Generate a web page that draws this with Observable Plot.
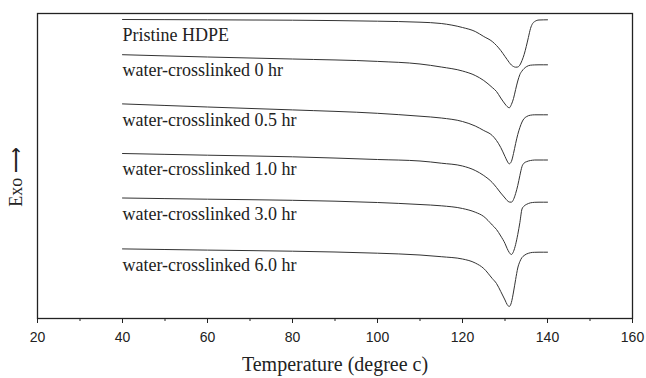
<!DOCTYPE html>
<html><head><meta charset="utf-8">
<script src="https://cdn.jsdelivr.net/npm/d3@7"></script>
<script src="https://cdn.jsdelivr.net/npm/@observablehq/plot@0.6"></script>
<style>
body{margin:0;background:#fff;}
#chart svg{display:block;}
</style>
</head><body><div id="chart"></div>
<script>
// Temperature grid (°C)
const temperature = [40, 60, 80, 100, 110, 115, 120, 123, 125, 127, 128, 129, 130, 130.5, 131, 131.5, 132, 132.5, 133, 133.5, 134, 134.5, 135, 135.5, 136, 136.5, 137, 138, 140];

const seriesNames = ["Pristine HDPE", "water-crosslinked 0 hr", "water-crosslinked 0.5 hr", "water-crosslinked 1.0 hr", "water-crosslinked 3.0 hr", "water-crosslinked 6.0 hr"];

// Heat flow (arbitrary units, stacked)
const pristine = [29.9, 29.87, 29.83, 29.73, 29.63, 29.5, 29.1, 28.7, 28.2, 27.7, 27.3, 26.8, 26.2, 25.9, 25.6, 25.35, 25.2, 25.13, 25.15, 25.35, 25.8, 26.4, 27.2, 28.1, 29.0, 29.5, 29.7, 29.85, 29.87];
const hr0 = [26.38, 26.15, 25.95, 25.71, 25.45, 25.15, 24.75, 24.3, 23.8, 23.1, 22.7, 22.05, 21.45, 21.2, 21.07, 21.4, 22.0, 22.9, 23.75, 24.4, 24.75, 25.0, 25.17, 25.28, 25.33, 25.35, 25.36, 25.37, 25.37];
const hr05 = [21.46, 21.15, 20.86, 20.52, 20.23, 20.05, 19.7, 19.25, 18.8, 18.3, 17.8, 17.1, 16.2, 15.75, 15.47, 15.7, 16.5, 17.5, 18.4, 19.1, 19.65, 20.0, 20.17, 20.28, 20.33, 20.36, 20.37, 20.37, 20.37];
const hr10 = [16.5, 16.33, 16.17, 15.9, 15.75, 15.53, 15.25, 14.8, 14.3, 13.6, 13.1, 12.55, 12.05, 11.8, 11.65, 11.63, 11.9, 12.5, 13.3, 14.3, 15.2, 15.55, 15.67, 15.75, 15.8, 15.83, 15.85, 15.85, 15.85];
const hr30 = [12.05, 11.93, 11.82, 11.6, 11.4, 11.27, 11.0, 10.63, 10.2, 9.35, 8.9, 8.25, 7.5, 7.0, 6.6, 6.4, 6.7, 7.4, 8.4, 9.6, 10.95, 11.25, 11.4, 11.5, 11.57, 11.6, 11.62, 11.63, 11.63];
const hr60 = [6.96, 6.84, 6.73, 6.53, 6.35, 6.18, 5.95, 5.55, 5.0, 4.0, 3.5, 2.7, 1.85, 1.4, 1.2, 1.6, 2.65, 3.9, 5.05, 5.7, 6.1, 6.3, 6.44, 6.52, 6.58, 6.61, 6.62, 6.63, 6.63];

const xMajorTicks = [20, 40, 60, 80, 100, 120, 140, 160];
const xMinorTicks = [30, 50, 70, 90, 110, 130, 150];
const xTitle = "Temperature (degree c)";
const yTitle = "Exo \u27F6";

const curves = [pristine, hr0, hr05, hr10, hr30, hr60];
const data = curves.flatMap((vals, i) => vals.map((v, j) => ({series: seriesNames[i], t: temperature[j], v})));
const labelData = curves.map((vals, i) => ({series: seriesNames[i], t: temperature[0], v: vals[0]}));

const serif = "'Liberation Serif', 'Times New Roman', serif";
const plot = Plot.plot({
  width: 646,
  height: 378,
  marginLeft: 37,
  marginRight: 14,
  marginTop: 13,
  marginBottom: 60,
  x: {domain: [20, 160]},
  y: {domain: [0, 30.5], axis: null},
  style: {fontFamily: "'Liberation Sans', Arial, sans-serif", color: "#222", background: "#fff"},
  marks: [
    Plot.line(data, {x: "t", y: "v", z: "series", curve: "monotone-x", stroke: "#333", strokeWidth: 1}),
    Plot.text(labelData, {x: "t", y: "v", text: "series", textAnchor: "start", lineAnchor: "middle", dy: 16, fontSize: 18, fontFamily: serif, fill: "#222"}),
    Plot.frame({stroke: "#222", strokeWidth: 1.3}),
    Plot.axisX({ticks: xMajorTicks, tickSize: 5, tickPadding: 9, fontSize: 14, label: null, stroke: "#222"}),
    Plot.axisX({ticks: xMinorTicks, tickSize: 3, text: null, label: null, stroke: "#222"}),
    Plot.text([xTitle], {frameAnchor: "bottom", textAnchor: "middle", lineAnchor: "middle", dy: 46, fontSize: 20, fontFamily: serif, fill: "#222"}),
    Plot.text([yTitle], {frameAnchor: "left", rotate: -90, textAnchor: "middle", lineAnchor: "middle", dx: -21, dy: 11, fontSize: 18, fontFamily: serif, fill: "#222"})
  ]
});
document.getElementById("chart").appendChild(plot);
</script>
</body></html>
